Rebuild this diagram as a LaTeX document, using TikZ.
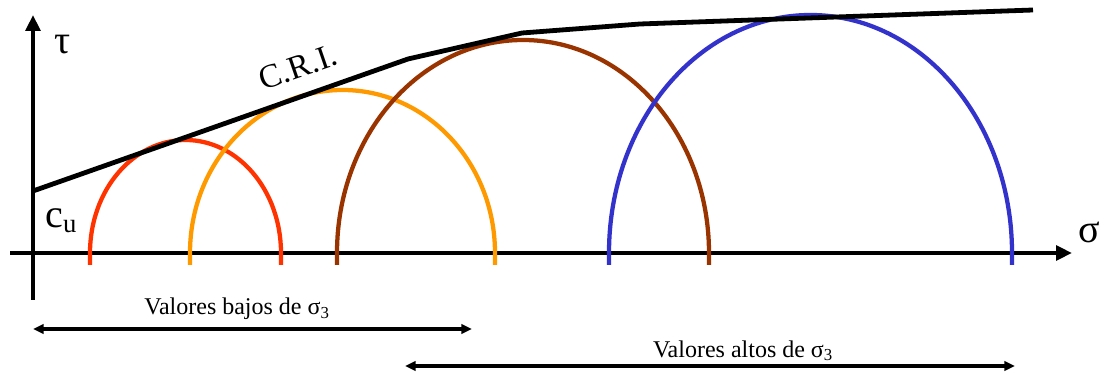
\documentclass[tikz,border=0pt]{standalone}
\usepackage{fontspec}
\setmainfont{Liberation Serif}
\newfontfamily\timesfont{Liberation Serif}
\usepackage{tikz}
\usetikzlibrary{arrows.meta,positioning,calc}
\definecolor{CircRed}{HTML}{FF3300}
\definecolor{CircOrange}{HTML}{FF9900}
\definecolor{CircBrown}{HTML}{993300}
\definecolor{CircBlue}{HTML}{3333CC}
\tikzset{
  axisline/.style={line width=3.4pt,-{Triangle[length=12pt,width=11pt]}},
  mohr/.style={line width=3.2pt},
  envelope/.style={line width=3.6pt,line join=round},
  rangearrow/.style={line width=2.4pt,{Triangle[length=8pt,width=7pt]}-{Triangle[length=8pt,width=7pt]}},
  biglabel/.style={font=\timesfont\fontsize{30}{32}\selectfont,inner sep=0pt},
  rangelabel/.style={font=\timesfont\fontsize{18}{20}\selectfont,inner sep=0pt}
}
\begin{document}
\begin{tikzpicture}[x=0.75pt,y=0.75pt]
  \useasboundingbox (0,0) rectangle (1099,374);
  % Axes
  \coordinate (sigmaStart) at (10,121);
  \coordinate (sigmaEnd) at (1072,121);
  \coordinate (tauStart) at (33,74);
  \coordinate (tauEnd) at (33,359);
  \draw[axisline] (sigmaStart) -- (sigmaEnd);
  \draw[axisline] (tauStart) -- (tauEnd);

  \node[biglabel] (tauLabel) at (63,329) {τ};
  \node[biglabel] (sigmaLabel) at (1089,142) {σ};
  \node[biglabel] (cuLabel) at (61,153) {c\raisebox{-0.25ex}{\fontsize{20}{22}\selectfont u}};

  % Mohr circles
  \draw[mohr,CircRed] (90,109) -- (90,121)
    arc[start angle=180,end angle=0,x radius=95.5,y radius=113] -- (281,109);
  \draw[mohr,CircOrange] (190,109) -- (190,121)
    arc[start angle=180,end angle=0,x radius=152.5,y radius=163] -- (495,109);
  \draw[mohr,CircBrown] (337,109) -- (337,121)
    arc[start angle=180,end angle=0,x radius=186,y radius=213] -- (709,109);
  \draw[mohr,CircBlue] (609,109) -- (609,121)
    arc[start angle=180,end angle=0,x radius=201.5,y radius=238] -- (1012,109);

  % Envelope
  \coordinate (cri0) at (33,183);
  \coordinate (cri1) at (408,315);
  \coordinate (cri2) at (522,341);
  \coordinate (cri3) at (640,350);
  \coordinate (cri4) at (1033,364);
  \draw[envelope] (cri0) -- (cri1) -- (cri2) -- (cri3) -- (cri4);
  \node[font=\timesfont\fontsize{25}{28}\selectfont,rotate=19,inner sep=0pt] (criLabel) at (298,307) {C.R.I.};

  % Ranges of sigma_3
  \coordinate (lowA) at (33,45);
  \coordinate (lowB) at (472,45);
  \coordinate (highA) at (405,8);
  \coordinate (highB) at (1015,8);
  \draw[rangearrow] (lowA) -- (lowB);
  \draw[rangearrow] (highA) -- (highB);
  \node[rangelabel] (lowLabel) at (237,65) {Valores bajos de σ\textsubscript{3}};
  \node[rangelabel] (highLabel) at (743,23) {Valores altos de σ\textsubscript{3}};
\end{tikzpicture}
\end{document}
